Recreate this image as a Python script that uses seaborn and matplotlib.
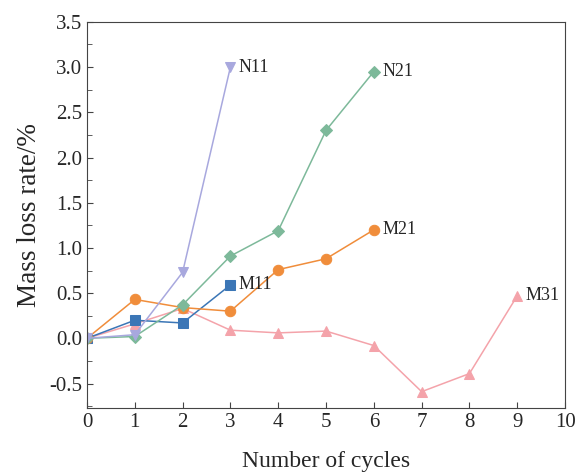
import pandas as pd
import seaborn as sns
import matplotlib.pyplot as plt
from matplotlib.ticker import MultipleLocator

# data
x_n11 = [0, 1, 2, 3]
y_n11 = [0.0, 0.04, 0.73, 3.0]
x_n21 = [0, 1, 2, 3, 4, 5, 6]
y_n21 = [0.0, 0.02, 0.37, 0.91, 1.19, 2.30, 2.95]
x_m21 = [0, 1, 2, 3, 4, 5, 6]
y_m21 = [0.0, 0.43, 0.34, 0.30, 0.76, 0.88, 1.20]
x_m11 = [0, 1, 2, 3]
y_m11 = [0.0, 0.20, 0.17, 0.59]
x_m31 = [0, 1, 2, 3, 4, 5, 6, 7, 8, 9]
y_m31 = [0.0, 0.16, 0.33, 0.09, 0.06, 0.08, -0.08, -0.59, -0.39, 0.47]

sns.set_style('ticks')
plt.rcParams['font.family'] = ['Liberation Serif', 'DejaVu Serif']
plt.rcParams['axes.unicode_minus'] = False

fig = plt.figure(figsize=(5.76, 4.76), dpi=100)
ax = fig.add_axes([0.151, 0.143, 0.830, 0.811])

series = [
    ('M31', x_m31, y_m31, '#f4a3aa', '^', 7.5),
    ('M11', x_m11, y_m11, '#3b76b6', 's', 6.5),
    ('M21', x_m21, y_m21, '#f08d3b', 'o', 7.5),
    ('N21', x_n21, y_n21, '#7db99a', 'D', 6.5),
    ('N11', x_n11, y_n11, '#a8a8de', 'v', 7.5),
]

for name, xs, ys, col, mk, ms in series:
    df = pd.DataFrame({'x': xs, 'y': ys})
    sns.lineplot(data=df, x='x', y='y', ax=ax, color=col, marker=mk,
                 markersize=ms, markeredgecolor=col, linewidth=1.1)
    ax.annotate(name, (xs[-1], ys[-1]), xytext=(6, 0), textcoords='offset points',
                va='center', ha='left', fontsize=13)

ax.set_xlim(0, 10)
ax.set_ylim(-0.77, 3.5)
ax.xaxis.set_major_locator(MultipleLocator(1))
ax.yaxis.set_major_locator(MultipleLocator(0.5))
ax.yaxis.set_minor_locator(MultipleLocator(0.25))
ax.tick_params(direction='in', which='both', labelsize=15, color='#444444')
ax.tick_params(which='major', length=4.5)
ax.tick_params(which='minor', length=3.5)
for s in ax.spines.values():
    s.set_color('#444444')
ax.set_xlabel('Number of cycles', fontsize=17, labelpad=14)
ax.set_ylabel('Mass loss rate/%', fontsize=19.5, labelpad=5)

plt.savefig('out.png', dpi=100)
